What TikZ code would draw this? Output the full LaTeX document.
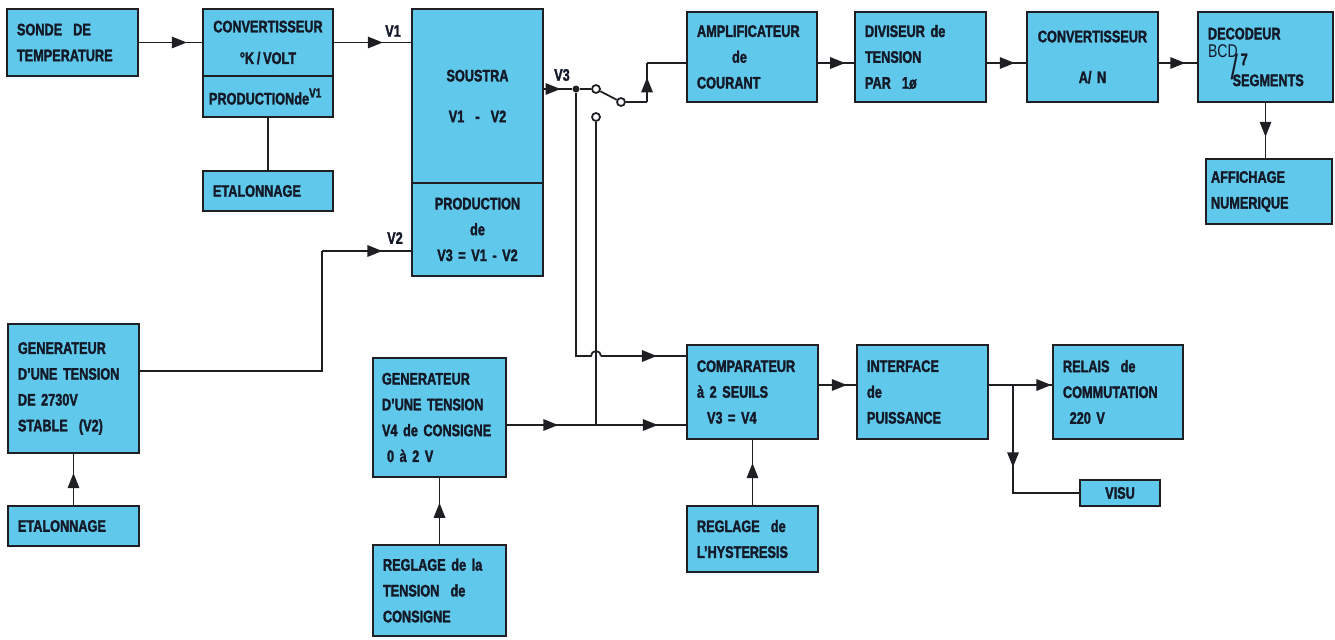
\documentclass[tikz,border=0pt]{standalone}
\usepackage{fontspec}
\newfontfamily\blkfont{Liberation Sans}[FakeStretch=0.76,BoldFeatures={FakeBold=1.8}]
\usetikzlibrary{positioning,arrows.meta,decorations.markings}
\definecolor{boxc}{RGB}{96,200,234}
\definecolor{linec}{RGB}{30,30,35}
\definecolor{txtc}{RGB}{20,25,40}
\newcommand{\blkf}{\blkfont\bfseries\fontsize{9.5}{14.7}\selectfont\hyphenpenalty=10000}
\tikzstyle{blk}=[rectangle,draw=linec,line width=1.5pt,fill=boxc,text=txtc,align=left,font=\blkf,inner xsep=0.2cm,inner ysep=0pt,outer sep=0pt]
\tikzstyle{ctr}=[align=center]
\tikzstyle{ln}=[color=linec,line width=1pt]
\tikzstyle{lbl}=[text=txtc,font=\blkf,inner sep=0pt]
\tikzstyle{cont}=[circle,draw=linec,line width=1pt,fill=white,inner sep=0pt,minimum size=0.16cm]
\tikzstyle{jdot}=[circle,fill=linec,inner sep=0pt,minimum size=0.14cm]
\tikzset{arr/.style={ln,postaction={decorate},decoration={markings,mark=at position #1 with {\arrow{Triangle[length=8.5pt,width=6.5pt]}}}},arr/.default=0.65}

\begin{document}
\begin{tikzpicture}[x=0.02cm,y=0.02cm]
\useasboundingbox (0,0) rectangle (1335,-639);
\node[blk,text width=2.22cm,minimum height=1.34cm] (sonde) at (72.5,-42.5) {SONDE\ \ DE\\TEMPERATURE};
\node[blk,ctr,text width=2.2cm,minimum height=1.34cm] (conv) at (268,-42.5) {CONVERTISSEUR\\[3.3pt]°K\,/\,VOLT};
\node[blk,text width=2.36cm,minimum height=0.82cm,inner xsep=0.12cm,below=0pt of conv] (prodv) {PRODUCTION{}de\raisebox{4pt}{\fontsize{7.5}{7.5}\selectfont V1}};
\node[blk,text width=2.2cm,minimum height=0.8cm] (etal1) at (268,-191) {ETALONNAGE};
\node[blk,ctr,text width=2.22cm,minimum height=3.48cm] (soustra) at (477.5,-96) {SOUSTRA\\[8.5pt]V1\ \ -\ \ V2};
\node[blk,ctr,text width=2.22cm,minimum height=1.86cm,below=0pt of soustra] (prod3) {PRODUCTION\\de\\V3 = V1 - V2};
\node[blk,text width=2.22cm,minimum height=2.58cm] (gen2730) at (73.5,-388.5) {GENERATEUR\\D’UNE\ TENSION\\DE 2730V\\STABLE\ \ (V2)};
\node[blk,text width=2.22cm,minimum height=0.8cm] (etal2) at (73.5,-526) {ETALONNAGE};
\node[blk,text width=2.3cm,minimum height=2.38cm,inner xsep=0.18cm] (genv4) at (439.5,-417.5) {GENERATEUR\\D’UNE TENSION\\V4 de CONSIGNE\\\hspace*{0.3em}0 à 2 V};
\node[blk,text width=2.26cm,minimum height=1.82cm] (reglt) at (439.5,-590.5) {REGLAGE de la\\TENSION\ \ de\\CONSIGNE};
\node[blk,text width=2.2cm,minimum height=1.8cm] (ampli) at (752,-57) {AMPLIFICATEUR\\\hspace*{2.1em}de\\COURANT};
\node[blk,text width=2.22cm,minimum height=1.8cm] (divis) at (920.5,-57) {DIVISEUR de\\TENSION\\PAR\ \ 1ø};
\node[blk,ctr,text width=2.22cm,minimum height=1.8cm] (convan) at (1092.5,-57) {CONVERTISSEUR\\[8.5pt]A/ N};
\node[blk,text width=2.3cm,minimum height=1.8cm] (decod) at (1265.5,-57) {DECODEUR\\[-4.5pt]{\mdseries\fontsize{10.5}{10.5}\selectfont BCD}\hspace{-4pt}\raisebox{-12.5pt}[0pt][0pt]{\fontsize{20}{20}\selectfont\mdseries /}\hspace{1.5pt}\raisebox{-4.5pt}[0pt][0pt]{7}\\[1.7pt]\hspace*{14pt}SEGMENTS};
\node[blk,text width=2.32cm,minimum height=1.3cm,inner xsep=0.1cm] (affich) at (1269,-191.5) {AFFICHAGE\\NUMERIQUE};
\node[blk,text width=2.22cm,minimum height=1.88cm] (comp) at (752.5,-392) {COMPARATEUR\\à 2 SEUILS\\\hspace*{0.6em}V3 = V4};
\node[blk,text width=2.22cm,minimum height=1.88cm] (interf) at (922.5,-392) {INTERFACE\\de\\PUISSANCE};
\node[blk,text width=2.2cm,minimum height=1.88cm] (relais) at (1118,-392) {RELAIS\ \ de\\COMMUTATION\\\hspace*{0.4em}220 V};
\node[blk,ctr,text width=1.2cm,minimum height=0.52cm] (visu) at (1120,-493) {VISU};
\node[blk,text width=2.22cm,minimum height=1.32cm] (hyst) at (752.5,-539) {REGLAGE\ \ de\\L’HYSTERESIS};
\node[jdot] (j3) at (576,-89) {};
\node[cont] (sa) at (596,-89) {};
\node[cont] (sb) at (621,-102) {};
\node[cont] (sc) at (596,-117) {};
\coordinate (sw) at (647,-63);
\coordinate (v2b) at (322,-371);
\coordinate (v2t) at (322,-251);
\coordinate (hpl) at (591,-356);
\coordinate (hpr) at (601,-356);
\coordinate (v4j) at (596,-425);
\coordinate (br) at (1013,-385);
\node[lbl] (lv1) at (393,-31) {V1};
\node[lbl] (lv2) at (395,-238) {V2};
\node[lbl] (lv3) at (562,-75) {V3};
\draw[arr=0.75] (sonde) -- (conv);
\draw[arr=0.63] (conv.east) -- (conv.east -| soustra.west);
\draw[ln] (etal1) -- (prodv);
\draw[ln] (gen2730.east |- v2b) -| (v2t);
\draw[arr=0.67] (v2t) -- (prod3.west |- v2t);
\draw[arr=0.62] (etal2) -- (gen2730);
\draw[arr=0.6] (soustra.east |- j3) -- (j3);
\draw[ln] (j3) -- (sa);
\draw[ln] (sa) -- (sb);
\draw[ln] (sb) -- (sb -| sw);
\draw[arr=0.63] (sb -| sw) -- (sw);
\draw[ln] (sw) -- (ampli.west |- sw);
\draw[arr=0.74] (ampli.east |- sw) -- (divis.west |- sw);
\draw[arr=0.7] (divis.east |- sw) -- (convan.west |- sw);
\draw[arr=0.68] (convan.east |- sw) -- (decod.west |- sw);
\draw[arr=0.61] (decod.south) -- (decod.south |- affich.north);
\draw[ln] (j3) |- (hpl) arc[start angle=180,end angle=0,radius=5];
\draw[arr=0.65] (hpr) -- (comp.west |- hpr);
\draw[ln] (sc) -- (v4j);
\draw[arr=0.58] (genv4.east |- v4j) -- (v4j);
\draw[arr=0.68] (v4j) -- (comp.west |- v4j);
\draw[arr=0.62] (reglt) -- (genv4);
\draw[arr=0.64] (hyst) -- (comp);
\draw[arr=0.74] (comp.east |- br) -- (interf.west |- br);
\draw[ln] (interf.east |- br) -- (br);
\draw[arr=0.96] (br) -- (relais.west |- br);
\draw[arr=0.47] (br) |- (visu.west);
\end{tikzpicture}
\end{document}
